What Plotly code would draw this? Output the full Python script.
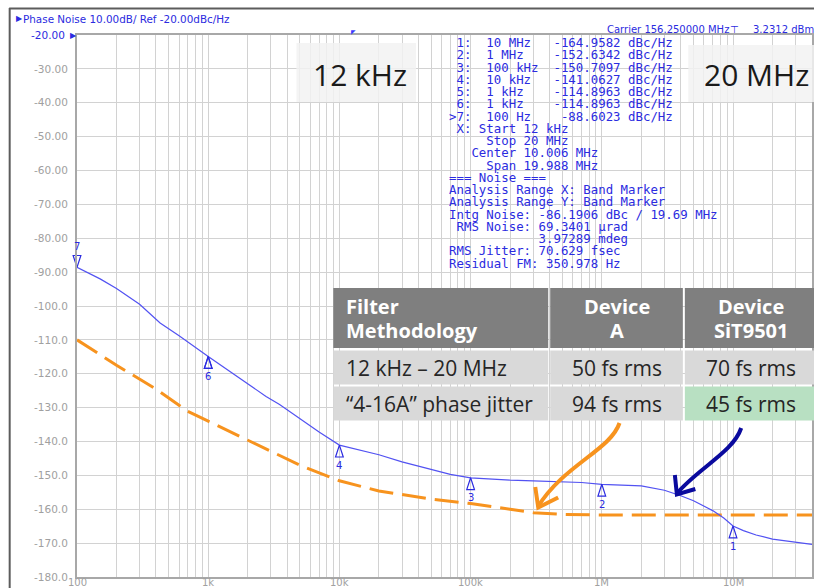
import math
import plotly.graph_objects as go

# ---------------- data ----------------
# Measured phase-noise trace: offset frequency (Hz) and level (dBc/Hz)
offset_hz = [100, 125, 150, 200, 300, 430, 600, 1e3, 1.5e3, 2e3, 2.76e3, 3.5e3, 5e3, 7e3,
             1e4, 1.2e4, 1.5e4, 2e4, 3e4, 5e4, 7e4, 1e5, 1.5e5, 2e5, 3e5, 5e5, 7e5, 1e6,
             1.5e6, 2e6, 3e6, 4e6, 5e6, 6e6, 7e6, 8.5e6, 1e7, 1.2e7, 1.5e7, 2e7, 2.5e7,
             3e7, 3.5e7, 4e7]
phase_noise_dbc = [-88.6, -90.5, -92.0, -94.8, -99.5, -105.0, -108.8, -114.9, -119.6, -122.9,
                   -126.7, -129.1, -133.3, -137.2, -141.06, -141.8, -142.6, -143.9, -146.0,
                   -148.3, -149.7, -150.71, -151.2, -151.4, -151.6, -151.8, -152.1, -152.63,
                   -152.8, -153.1, -154.4, -156.0, -157.5, -159.0, -160.4, -162.6, -164.96,
                   -166.3, -167.6, -168.8, -169.3, -169.6, -170.1, -170.4]

# Device A curve (dashed)
device_a_hz = [100, 200, 400, 690, 1e3, 2e3, 5e3, 1e4, 2e4, 5e4, 1e5, 2e5, 3e5, 5e5, 1e6, 4e7]
device_a_dbc = [-110.0, -117.5, -124.5, -131.0, -134.0, -139.5, -147.0, -151.6, -154.6,
                -157.0, -158.3, -160.0, -161.0, -161.5, -161.7, -161.7]

# Instrument markers
marker_ids = [1, 2, 3, 4, 5, 6, 7]
marker_hz = [1e7, 1e6, 1e5, 1e4, 1e3, 1e3, 100]
marker_freq_text = ["10 MHz", "1 MHz", "100 kHz", "10 kHz", "1 kHz", "1 kHz", "100 Hz"]
marker_dbc = [-164.9582, -152.6342, -150.7097, -141.0627, -114.8963, -114.8963, -88.6023]
active_marker = 7

# Integration band
band_hz = [12e3, 20e6]
band_labels = ["12 kHz", "20 MHz"]

# Analysis readout
analysis_lines = [
    " X: Start 12 kHz",
    "     Stop 20 MHz",
    "   Center 10.006 MHz",
    "     Span 19.988 MHz",
    "=== Noise ===",
    "Analysis Range X: Band Marker",
    "Analysis Range Y: Band Marker",
    "Intg Noise: -86.1906 dBc / 19.69 MHz",
    " RMS Noise: 69.3401 µrad",
    "            3.97289 mdeg",
    "RMS Jitter: 70.629 fsec",
    "Residual FM: 350.978 Hz",
]

# Axes
x_tick_hz = [100, 1e3, 1e4, 1e5, 1e6, 1e7]
x_tick_text = ["100", "1k", "10k", "100k", "1M", "10M"]
y_ticks = list(range(-180, -19, 10))
y_range = [-180, -20]
x_range_hz = [100, 4e7]

# Jitter comparison table
table_header = [["Filter", "Methodology"], ["Device", "A"], ["Device", "SiT9501"]]
table_methods = ["12 kHz – 20 MHz", "“4-16A” phase jitter"]
device_a_jitter = ["50 fs rms", "94 fs rms"]
sit9501_jitter = ["70 fs rms", "45 fs rms"]
best_cell = (1, 2)  # row, column highlighted

# ---------------- styling ----------------
W, H = 814, 588
PL, PT, PW, PH = 77, 35, 737, 542
INSTR_BLUE = "#2b2be0"
TRACE_BLUE = "#5252f2"
ORANGE = "#f7931e"
GRID = "#d2d2d2"
AXIS = "#a8a8a8"
px_per_db = PH / (y_range[1] - y_range[0])


def xp(px):
    return (px - PL) / PW


def yp(py):
    return (PT + PH - py) / PH


def path_str(points, cubic=False):
    pts = [(xp(a), yp(b)) for a, b in points]
    if cubic:
        (x0, y0), (x1, y1), (x2, y2), (x3, y3) = pts
        return f"M{x0},{y0} C{x1},{y1} {x2},{y2} {x3},{y3}"
    return "M" + " L".join(f"{a},{b}" for a, b in pts)


def paper_text(x, y, text, size, color, family="DejaVu Sans", anchor="left"):
    return dict(x=xp(x), y=yp(y), xref="paper", yref="paper", xanchor=anchor,
                yanchor="middle", showarrow=False, text=text,
                font=dict(family=family, size=size, color=color))


fig = go.Figure()

fig.add_trace(go.Scatter(x=device_a_hz, y=device_a_dbc, mode="lines",
                         line=dict(color=ORANGE, width=3, dash="24px,9px"),
                         hoverinfo="skip"))
fig.add_trace(go.Scatter(x=offset_hz, y=phase_noise_dbc, mode="lines",
                         line=dict(color=TRACE_BLUE, width=1.2), hoverinfo="skip"))

# marker triangles on the trace (tip touches the trace)
angles = [180 if m == active_marker else 0 for m in marker_ids]
fig.add_trace(go.Scatter(x=marker_hz, y=marker_dbc, mode="markers", cliponaxis=False,
                         marker=dict(symbol="arrow-open", angle=angles, size=12.5,
                                     color=INSTR_BLUE, line=dict(color=INSTR_BLUE, width=1.2)),
                         hoverinfo="skip"))

# stimulus triangles on the frequency axis
axis_hz, axis_sym = [], []
for m, f in zip(marker_ids, marker_hz):
    s = "triangle-up" if m == active_marker else "triangle-up-open"
    if f in axis_hz:
        if s == "triangle-up":
            axis_sym[axis_hz.index(f)] = s
    else:
        axis_hz.append(f)
        axis_sym.append(s)
fig.add_trace(go.Scatter(x=axis_hz, y=[y_range[0] - 3 / px_per_db] * len(axis_hz),
                         mode="markers", cliponaxis=False,
                         marker=dict(symbol=axis_sym, size=8, color=INSTR_BLUE,
                                     line=dict(color=INSTR_BLUE, width=1)),
                         hoverinfo="skip"))

annotations = []
shapes = []

# marker numbers (last marker at a location is drawn on top)
label_at = {}
for m, f, v in zip(marker_ids, marker_hz, marker_dbc):
    label_at[f] = (m, v)
for f, (m, v) in label_at.items():
    annotations.append(dict(x=math.log10(f), y=v, xref="x", yref="y", text=str(m),
                            showarrow=False, yshift=21 if m == active_marker else -20,
                            xanchor="center",
                            font=dict(family="DejaVu Sans", size=10, color=INSTR_BLUE)))

# frequency axis labels
for f, t in zip(x_tick_hz, x_tick_text):
    annotations.append(dict(x=math.log10(f), y=yp(582), xref="x", yref="paper", text=t,
                            showarrow=False, yanchor="middle", xanchor="center",
                            font=dict(family="DejaVu Sans", size=10, color="#a0a0a0")))

# reference level label
annotations.append(paper_text(67, 35, "-20.00", 10.5, INSTR_BLUE, anchor="right"))
annotations.append(paper_text(68, 35, "▶", 8, INSTR_BLUE))

# header texts
annotations.append(paper_text(14, 18.5, "▶", 8, INSTR_BLUE))
annotations.append(paper_text(21, 18.5, "Phase Noise 10.00dB/ Ref -20.00dBc/Hz", 10.4,
                              INSTR_BLUE))
annotations.append(paper_text(606.5, 29.5, "Carrier 156.250000 MHz", 10, INSTR_BLUE))
annotations.append(paper_text(730, 29.5, "⊤", 10, INSTR_BLUE))
annotations.append(paper_text(753, 29.5, "3.2312 dBm", 10, INSTR_BLUE))

# marker / noise readout
readout = []
for m, ft, v in zip(marker_ids, marker_freq_text, marker_dbc):
    pre = ">" if m == active_marker else " "
    readout.append(f"{pre}{m}:  {ft:<9}{v:>9.4f} dBc/Hz")
readout += analysis_lines
for i, line in enumerate(readout):
    annotations.append(paper_text(448.3, 42.7 + i * 12.25, line.replace(" ", "\u00a0"),
                                  12.4, INSTR_BLUE, family="DejaVu Sans Mono"))

# integration band lines, start flag and labels
for f in band_hz:
    shapes.append(dict(type="line", xref="x", yref="paper", x0=math.log10(f), x1=math.log10(f),
                       y0=0, y1=yp(25), line=dict(color="#3b3bff", width=1.5), layer="above"))
annotations.append(dict(x=math.log10(band_hz[0]), y=yp(31), xref="x", yref="paper",
                        xanchor="left", yanchor="middle", showarrow=False, text="◤",
                        xshift=-1, font=dict(family="DejaVu Sans", size=6, color="#3b3bff")))
label_boxes = [(297, 43, 417, 102), (690, 45, 830, 102)]
label_centers = [(361, 74), (758, 74)]
for (x0, y0, x1, y1), (cx, cy), t in zip(label_boxes, label_centers, band_labels):
    shapes.append(dict(type="rect", xref="paper", yref="paper", x0=xp(x0), x1=xp(x1),
                       y0=yp(y1), y1=yp(y0), fillcolor="rgba(242,242,242,0.85)",
                       line=dict(width=0), layer="above"))
    annotations.append(paper_text(cx, cy, t, 30, "#1a1a1a", family="Open Sans",
                                  anchor="center"))

# comparison table
col_edges = [(334, 549.5), (551.5, 684.5), (686.5, 822)]
row_edges = [(288, 348), (350.5, 384.5), (386.5, 420.5)]
body = [[table_methods[r], device_a_jitter[r], sit9501_jitter[r]] for r in range(2)]
for ri, (ry0, ry1) in enumerate(row_edges):
    for ci, (cx0, cx1) in enumerate(col_edges):
        if ri == 0:
            fill = "#7f7f7f"
        elif (ri - 1, ci) == best_cell:
            fill = "#b8e0c2"
        else:
            fill = "#d9d9d9"
        shapes.append(dict(type="rect", xref="paper", yref="paper", x0=xp(cx0), x1=xp(cx1),
                           y0=yp(ry1), y1=yp(ry0), fillcolor=fill, line=dict(width=0),
                           layer="above"))
        tx = 345 if ci == 0 else (cx0 + cx1) / 2 - (1 if ci == 2 else 0)
        anc = "left" if ci == 0 else "center"
        if ri == 0:
            for txt, yc in zip(table_header[ci], (306.5, 330.5)):
                annotations.append(paper_text(tx, yc, f"<b>{txt}</b>", 20, "white",
                                              family="Open Sans", anchor=anc))
        else:
            annotations.append(paper_text(tx, (ry0 + ry1) / 2, body[ri - 1][ci], 21,
                                          "#262626", family="Open Sans", anchor=anc))

# hand-drawn call-out arrows
arrows = [
    (ORANGE, [(621, 423), (612, 450), (565, 465), (539, 507)],
     [(536.5, 487), (539.5, 507.5), (559.5, 497.5)]),
    ("#0a0a9e", [(743, 428), (735, 452), (700, 468), (678, 494)],
     [(676.5, 475), (678.5, 494.5), (697, 489)]),
]
for color, curve, head in arrows:
    shapes.append(dict(type="path", xref="paper", yref="paper", path=path_str(curve, True),
                       line=dict(color=color, width=4), layer="above"))
    shapes.append(dict(type="path", xref="paper", yref="paper", path=path_str(head),
                       line=dict(color=color, width=4), layer="above"))

# window frame
shapes.append(dict(type="line", xref="paper", yref="paper", x0=xp(9.5), x1=xp(9.5),
                   y0=yp(8), y1=yp(600), line=dict(color="#5c5c5c", width=2)))
shapes.append(dict(type="line", xref="paper", yref="paper", x0=xp(9), x1=xp(820),
                   y0=yp(8.5), y1=yp(8.5), line=dict(color="#5c5c5c", width=2)))

y_text = []
for v in y_ticks:
    t = f"{v:.2f}" if abs(v) < 100 else f"{v:.1f}"
    y_text.append("" if v == y_range[1] else t)

fig.update_layout(
    width=W, height=H,
    margin=dict(l=PL, r=W - PL - PW, t=PT, b=H - PT - PH),
    paper_bgcolor="white", plot_bgcolor="white", showlegend=False,
    xaxis=dict(type="log", range=[math.log10(x_range_hz[0]), math.log10(x_range_hz[1])],
               dtick=1, showgrid=True, gridcolor=GRID, gridwidth=1.3,
               minor=dict(dtick="D1", showgrid=True, gridcolor=GRID, gridwidth=1.3),
               showticklabels=False, ticks="", zeroline=False,
               showline=True, linecolor=AXIS, linewidth=2, mirror=True),
    yaxis=dict(range=y_range, tickvals=y_ticks, ticktext=y_text, showgrid=True,
               gridcolor=GRID, gridwidth=1.3, zeroline=False, ticks="",
               ticklabelstandoff=5,
               tickfont=dict(family="DejaVu Sans", size=10.5, color="#a0a0a0"),
               showline=True, linecolor=AXIS, linewidth=2, mirror=True),
    annotations=annotations,
    shapes=shapes,
)

fig.write_html("out.html")
